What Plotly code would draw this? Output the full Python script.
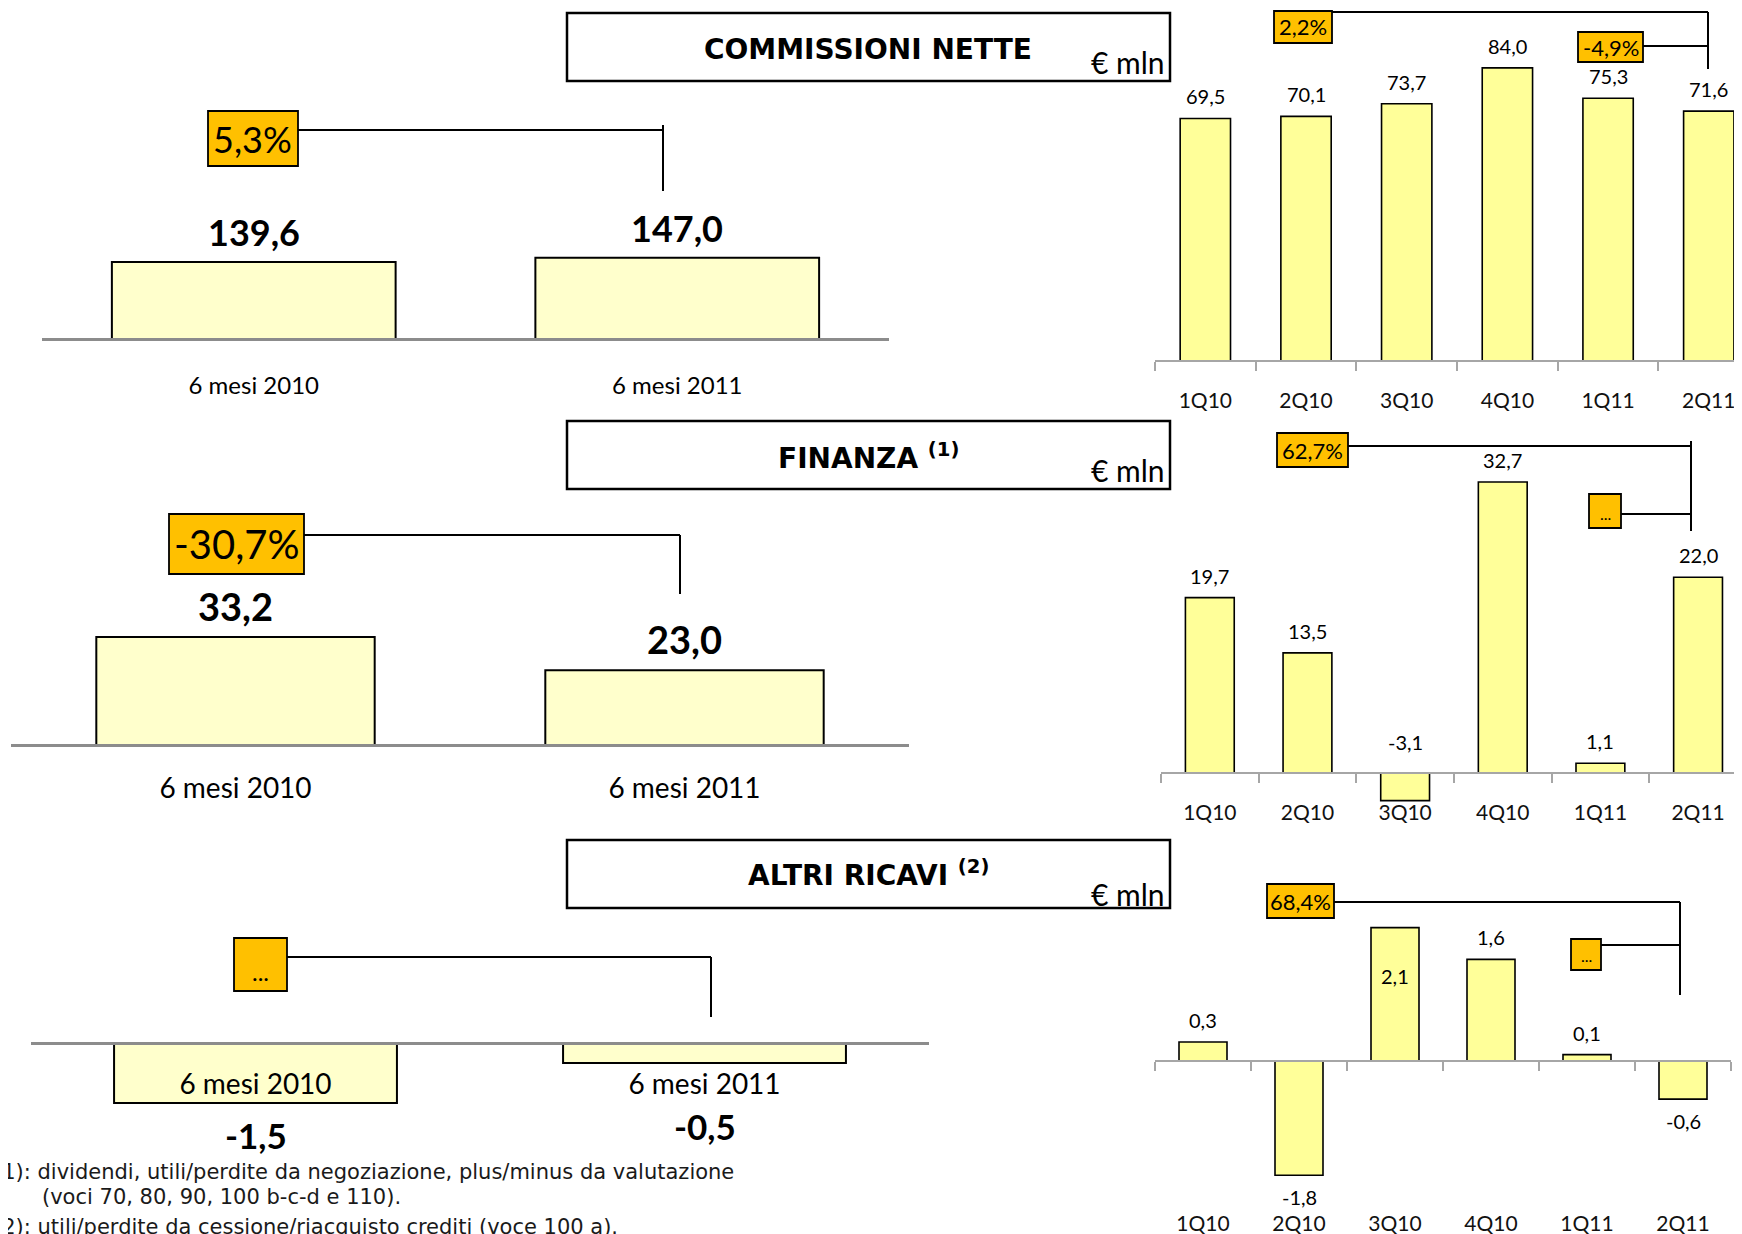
import plotly.graph_objects as go

W, H = 1742, 1234
OFF = 8  # page body margin around the plot div

# ---------------------------------------------------------------------------
# Data (€ mln)
# ---------------------------------------------------------------------------
semesters = ["6 mesi 2010", "6 mesi 2011"]
quarters = ["1Q10", "2Q10", "3Q10", "4Q10", "1Q11", "2Q11"]

comm_semester = [139.6, 147.0]
comm_quarter = [69.5, 70.1, 73.7, 84.0, 75.3, 71.6]
fin_semester = [33.2, 23.0]
fin_quarter = [19.7, 13.5, -3.1, 32.7, 1.1, 22.0]
altri_semester = [-1.5, -0.5]
altri_quarter = [0.3, -1.8, 2.1, 1.6, 0.1, -0.6]

comm_changes = ["5,3%", "2,2%", "-4,9%"]
fin_changes = ["-30,7%", "62,7%", "..."]
altri_changes = ["...", "68,4%", "..."]

titles = ["COMMISSIONI NETTE", "FINANZA <sup>(1)</sup>", "ALTRI RICAVI <sup>(2)</sup>"]
unit_label = "€ mln"
footnotes = [
    "(1): dividendi, utili/perdite da negoziazione, plus/minus da valutazione",
    "(voci 70, 80, 90, 100 b-c-d e 110).",
    "(2): utili/perdite da cessione/riacquisto crediti (voce 100 a).",
]

# ---------------------------------------------------------------------------
# Style / geometry (pixels of the 1742x1234 page)
# ---------------------------------------------------------------------------
CAL = "Lato, 'Open Sans', sans-serif"
VER = "'DejaVu Sans', Verdana, sans-serif"
BADGE = "#FFC000"
AXIS_GREY = "#8c8c8c"

LEFT = [
    dict(x=(42, 889), y=(90, 339), zero=339, k=0.552, bar=0.67, tick=24, val=36, stand=24),
    dict(x=(11, 909), y=(500, 745), zero=745, k=3.25, bar=0.62, tick=28, val=38, stand=17),
    dict(x=(31, 929), y=(930, 1110), zero=1043, k=40.0, bar=0.63, tick=28, val=35, stand=15,
         floor=-1.28),
]
RIGHT = [
    dict(x=(1155, 1742), y=(60, 361), zero=361, k=3.49, end=5.33, stand=21, place={}),
    dict(x=(1161, 1742), y=(470, 810), zero=773, k=8.9, end=5.45, stand=21,
         place={"3Q10": "axis"}),
    dict(x=(1155, 1731), y=(900, 1180), zero=1061, k=63.5, end=5.5, stand=144,
         place={"3Q10": "inside"}),
]

TITLE_BOXES = [(567, 13, 1170, 81), (567, 421, 1170, 489), (567, 840, 1170, 908)]
TITLE_Y = [49, 456, 874]
UNIT_Y = [62, 470, 894]

BADGES = [
    [(208, 111, 298, 166, 36), (1274, 11, 1332, 43, 22), (1578, 32, 1643, 62, 22)],
    [(169, 514, 304, 574, 40), (1277, 433, 1348, 467, 22), (1589, 494, 1621, 528, 16)],
    [(234, 938, 287, 991, 24), (1267, 884, 1334, 918, 22), (1571, 939, 1601, 970, 16)],
]
CONNECTORS = [
    [(298, 130, 663, 130), (663, 125, 663, 191),
     (1332, 12, 1708, 12), (1708, 12, 1708, 69), (1643, 46, 1708, 46)],
    [(304, 535, 680, 535), (680, 535, 680, 594),
     (1348, 446, 1691, 446), (1691, 441, 1691, 531), (1621, 514, 1691, 514)],
    [(287, 957, 711, 957), (711, 957, 711, 1017),
     (1334, 902, 1680, 902), (1680, 902, 1680, 995), (1601, 945, 1680, 945)],
]


def fx(p):
    return (p - OFF) / W


def fy(p):
    return 1 - (p - OFF) / H


def fmt(v):
    return f"{v:.1f}".replace(".", ",")


fig = go.Figure()
annotations = []
shapes = []


def add_panel(n, cats, values, geo, left):
    s = "" if n == 1 else str(n)
    x0, x1 = geo["x"]
    ytop, ybot = geo["y"]
    zero, k = geo["zero"], geo["k"]
    fig.add_trace(go.Bar(
        x=cats, y=values, xaxis="x" + s, yaxis="y" + s,
        width=geo["bar"] if left else 0.5,
        marker=dict(color="#FFFFCC" if left else "#FFFF99",
                    line=dict(color="black", width=2 if left else 1.6)),
        hovertemplate="%{x}: %{y:.1f}<extra></extra>",
        showlegend=False,
    ))
    xaxis = dict(
        domain=[fx(x0), fx(x1)], anchor="free", position=fy(zero),
        type="category", range=[-0.5, 1.5 if left else geo["end"]],
        showgrid=False, zeroline=False, showline=True, fixedrange=True,
        ticklabelstandoff=geo["stand"],
    )
    if left:
        xaxis.update(linecolor=AXIS_GREY, linewidth=3, ticks="",
                     tickfont=dict(family=CAL, size=geo["tick"], color="black"))
    else:
        xaxis.update(linecolor="#a6a6a6", linewidth=2, ticks="outside",
                     tickson="boundaries", ticklen=9, tickwidth=1.5, tickcolor="#a6a6a6",
                     tickfont=dict(family=CAL, size=21, color="#111111"))
    fig.update_layout({
        "xaxis" + s: xaxis,
        "yaxis" + s: dict(domain=[fy(ybot), fy(ytop)], anchor="x" + s,
                          range=[-(ybot - zero) / k, (zero - ytop) / k],
                          visible=False, fixedrange=True),
    })

    # value labels
    for c, v in zip(cats, values):
        a = dict(x=c, text=fmt(v), xref="x" + s, yref="y" + s, showarrow=False,
                 font=dict(family=CAL, color="black",
                           size=geo["val"] if left else 20),
                 xanchor="center")
        if left:
            a["font"]["weight"] = "bold"
            if v >= 0:
                a.update(y=v, yanchor="bottom", yshift=6)
            else:
                a.update(y=min(v, geo["floor"]), yanchor="top", yshift=-9)
        else:
            mode = geo["place"].get(c, "out")
            if mode == "axis":
                a.update(y=0, yanchor="bottom", yshift=17)
            elif mode == "inside":
                a.update(y=v, yanchor="top", yshift=-34)
            elif v >= 0:
                a.update(y=v, yanchor="bottom", yshift=8)
            else:
                a.update(y=v, yanchor="top", yshift=-8)
        annotations.append(a)


for i, (sem, qtr) in enumerate([(comm_semester, comm_quarter),
                                 (fin_semester, fin_quarter),
                                 (altri_semester, altri_quarter)]):
    add_panel(2 * i + 1, semesters, sem, LEFT[i], True)
    add_panel(2 * i + 2, quarters, qtr, RIGHT[i], False)

# title boxes
for (x0, y0, x1, y1), title, ty, uy in zip(TITLE_BOXES, titles, TITLE_Y, UNIT_Y):
    shapes.append(dict(type="rect", xref="paper", yref="paper",
                       x0=fx(x0), x1=fx(x1), y0=fy(y1), y1=fy(y0),
                       line=dict(color="black", width=2.5), fillcolor="white", layer="below"))
    annotations.append(dict(text=title, x=fx(868), y=fy(ty), xref="paper", yref="paper",
                            showarrow=False, xanchor="center", yanchor="middle",
                            font=dict(family=VER, size=28, color="black", weight="bold")))
    annotations.append(dict(text=unit_label, x=fx(1167), y=fy(uy), xref="paper", yref="paper",
                            showarrow=False, xanchor="right", yanchor="middle",
                            font=dict(family=CAL, size=30, color="black")))

# growth badges and their connectors
for changes, boxes, lines in zip([comm_changes, fin_changes, altri_changes], BADGES, CONNECTORS):
    for (x0, y0, x1, y1) in lines:
        shapes.append(dict(type="line", xref="paper", yref="paper",
                           x0=fx(x0), x1=fx(x1), y0=fy(y0), y1=fy(y1),
                           line=dict(color="black", width=2)))
    for label, (x0, y0, x1, y1, size) in zip(changes, boxes):
        shapes.append(dict(type="rect", xref="paper", yref="paper",
                           x0=fx(x0), x1=fx(x1), y0=fy(y1), y1=fy(y0),
                           line=dict(color="black", width=1.8), fillcolor=BADGE))
        if label == "...":
            annotations.append(dict(text=label, x=fx((x0 + x1) / 2), y=fy(y1 - 3),
                                    xref="paper", yref="paper", showarrow=False,
                                    xanchor="center", yanchor="bottom",
                                    font=dict(family=CAL, size=size, color="black")))
        else:
            annotations.append(dict(text=label, x=fx((x0 + x1) / 2), y=fy((y0 + y1) / 2),
                                    xref="paper", yref="paper", showarrow=False,
                                    xanchor="center", yanchor="middle",
                                    font=dict(family=CAL, size=size, color="black")))

# footnotes
for text, (x, y) in zip(footnotes, [(-8, 1172), (40, 1197), (-8, 1227)]):
    annotations.append(dict(text=text, x=fx(x), y=fy(y), xref="paper", yref="paper",
                            showarrow=False, xanchor="left", yanchor="middle",
                            font=dict(family=VER, size=21, color="#1a1a1a")))

fig.update_layout(
    width=W, height=H,
    margin=dict(l=0, r=0, t=0, b=0),
    paper_bgcolor="white", plot_bgcolor="white",
    showlegend=False,
    annotations=annotations,
    shapes=shapes,
)

fig.write_html("out.html")
